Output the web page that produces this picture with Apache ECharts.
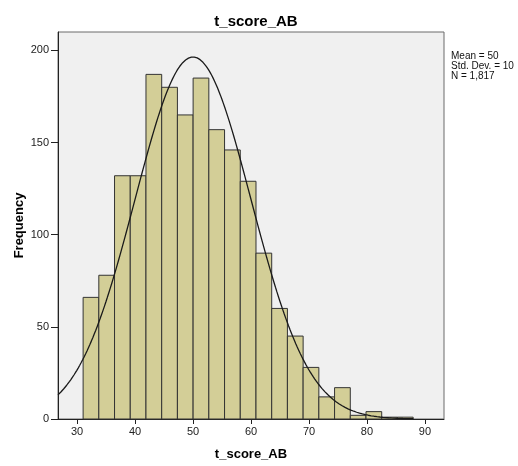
<!DOCTYPE html>
<html>
<head>
<meta charset="utf-8">
<script src="https://cdn.jsdelivr.net/npm/echarts@6/dist/echarts.min.js"></script>
<style>
  html, body { margin: 0; padding: 0; background: #fff; }
  #main { width: 518px; height: 466px; }
</style>
</head>
<body>
<div id="main"></div>
<script>
// histogram bins
var binStart = 31.05;
var binWidth = 2.71;
var counts = [66, 78, 132, 132, 187, 180, 165, 185, 157, 146, 129, 90, 60, 45, 28, 12, 17, 2, 4, 1, 1];

// summary stats shown at the right
var mean = 50;
var sd = 10;
var n = 1817;
var statLines = ['Mean = 50', 'Std. Dev. = 10', 'N = 1,817'];

var xTicks = [30, 40, 50, 60, 70, 80, 90];
var yTicks = [0, 50, 100, 150, 200];
var xMin = 26.72, xMax = 93.28, yMax = 210;

var bars = counts.map(function (c, i) {
    return [binStart + i * binWidth, binStart + (i + 1) * binWidth, c];
});

// normal curve from the stated mean / sd / N
var curve = [];
for (var x = xMin; x <= 88.2; x += 0.25) {
    var z = (x - mean) / sd;
    curve.push([x, n * binWidth / (sd * Math.sqrt(2 * Math.PI)) * Math.exp(-0.5 * z * z)]);
}

var font = 'Liberation Sans, Arial, sans-serif';
var myChart = echarts.init(document.getElementById('main'));
myChart.setOption({
    animation: false,
    title: {
        text: 't_score_AB',
        left: 251,
        textAlign: 'center',
        top: 9,
        textStyle: { fontFamily: font, fontSize: 15, fontWeight: 'bold', color: '#000' }
    },
    grid: {
        left: 58, right: 74, top: 32, bottom: 47,
        outerBoundsMode: 'none',
        show: true,
        backgroundColor: '#f0f0f0',
        borderColor: '#6a6a6a',
        borderWidth: 1
    },
    xAxis: {
        type: 'value',
        min: xMin,
        max: xMax,
        name: 't_score_AB',
        nameLocation: 'middle',
        nameGap: 29,
        nameMoveOverlap: false,
        nameTextStyle: { fontFamily: font, fontSize: 13, fontWeight: 'bold', color: '#000' },
        splitLine: { show: false },
        axisLine: { onZero: false, lineStyle: { color: '#222', width: 1 } },
        axisTick: { show: true, length: 5, customValues: xTicks, lineStyle: { color: '#222' } },
        axisLabel: { customValues: xTicks, fontFamily: font, fontSize: 11, color: '#222', margin: 7 }
    },
    yAxis: {
        type: 'value',
        min: 0,
        max: yMax,
        name: 'Frequency',
        nameLocation: 'middle',
        nameGap: 32,
        nameMoveOverlap: false,
        nameTextStyle: { fontFamily: font, fontSize: 13, fontWeight: 'bold', color: '#000' },
        splitLine: { show: false },
        axisLine: { show: true, lineStyle: { color: '#222', width: 1 } },
        axisTick: { show: true, length: 7, customValues: yTicks, lineStyle: { color: '#222' } },
        axisLabel: { customValues: yTicks, fontFamily: font, fontSize: 11, color: '#222', margin: 9 }
    },
    graphic: statLines.map(function (t, i) {
        return {
            type: 'text',
            left: 451,
            top: 51 + i * 10,
            style: { text: t, fontFamily: font, fontSize: 10, fill: '#111' }
        };
    }),
    series: [{
        type: 'custom',
        data: bars,
        encode: { x: [0, 1], y: 2 },
        renderItem: function (params, api) {
            var p0 = api.coord([api.value(0), api.value(2)]);
            var p1 = api.coord([api.value(1), 0]);
            return {
                type: 'rect',
                shape: { x: p0[0], y: p0[1], width: p1[0] - p0[0], height: p1[1] - p0[1] },
                style: { fill: '#d3ce97', stroke: '#333', lineWidth: 1 }
            };
        }
    }, {
        type: 'line',
        data: curve,
        showSymbol: false,
        symbol: 'none',
        lineStyle: { color: '#1a1a1a', width: 1.3 },
        z: 5
    }]
});
</script>
</body>
</html>
